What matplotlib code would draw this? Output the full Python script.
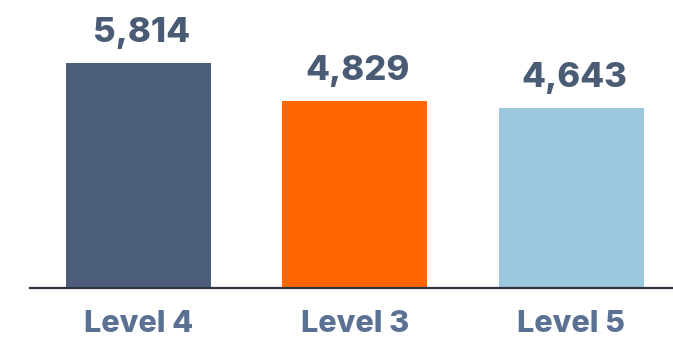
import matplotlib
matplotlib.use("Agg")
import matplotlib.pyplot as plt

levels = ["Level 4", "Level 3", "Level 5"]
counts = [5814, 4829, 4643]
bar_colors = ["#4b5d78", "#ff6600", "#9bc8df"]

plt.rcParams["font.family"] = ["Inter", "DejaVu Sans"]

fig = plt.figure(figsize=(6.73, 3.40), dpi=100)
ax = fig.add_axes([30 / 673, 52 / 340, 643 / 673, 288 / 340])

x = range(len(levels))
bars = ax.bar(x, counts, width=0.67, color=bar_colors)

for b, v in zip(bars, counts):
    ax.annotate(f"{v:,}", (b.get_x() + b.get_width() / 2, v),
                xytext=(2, 15), textcoords="offset points",
                ha="center", va="baseline", fontsize=25, fontweight="heavy",
                color="#4a5b75")

ax.set_xlim(-0.501, 2.469)
ax.set_ylim(0, 7442)
ax.set_xticks(list(x))
ax.set_xticklabels(levels, fontsize=22, fontweight="heavy", color="#5b7194")
ax.tick_params(axis="x", length=0, pad=16)
ax.set_yticks([])
for s in ["top", "right", "left"]:
    ax.spines[s].set_visible(False)
ax.spines["bottom"].set_color("#2e3440")
ax.spines["bottom"].set_linewidth(1.6)

fig.savefig("out.png", dpi=100)
